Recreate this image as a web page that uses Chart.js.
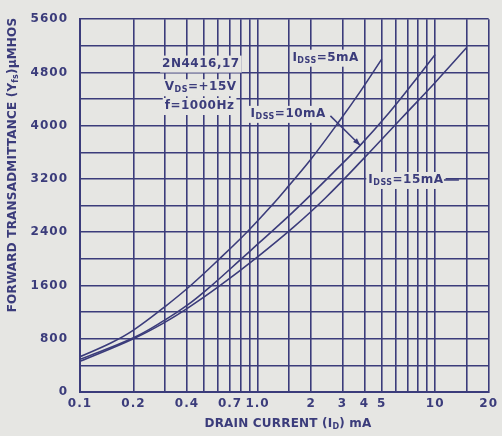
<!DOCTYPE html>
<html>
<head>
<meta charset="utf-8">
<script src="https://cdn.jsdelivr.net/npm/chart.js@4.4.1/dist/chart.umd.min.js"></script>
<style>
  html, body { margin: 0; padding: 0; background: #e6e6e3; }
</style>
</head>
<body>
<canvas id="chart" width="502" height="436"></canvas>
<script>
// drain current (mA) and forward transadmittance (umhos)
const idss5Current  = [0.1, 0.15, 0.2, 0.3, 0.42, 0.61, 0.87, 1.2, 1.5, 2.0, 2.86, 3.8, 5.0];
const idss5Yfs      = [530, 740, 930, 1280, 1600, 2000, 2400, 2800, 3100, 3500, 4055, 4520, 5000];
const idss10Current = [0.1, 0.2, 0.3, 0.4, 0.54, 0.81, 1.0, 1.5, 2.0, 2.7, 3.78, 5.5, 7.5, 10];
const idss10Yfs     = [490, 815, 1080, 1300, 1580, 2000, 2220, 2646, 2965, 3310, 3705, 4195, 4640, 5070];
const idss15Current = [0.1, 0.2, 0.3, 0.4, 0.6, 1.0, 1.6, 2.4, 4.0, 6.5, 10, 15];
const idss15Yfs     = [460, 800, 1046, 1252, 1578, 2030, 2480, 2910, 3520, 4120, 4650, 5170];

const xTickLabels = [0.1, 0.2, 0.4, 0.7, 1, 2, 3, 4, 5, 10, 20];
const yTickLabels = [0, 800, 1600, 2400, 3200, 4000, 4800, 5600];

const ink = '#3b3c7b';
const paper = '#e6e6e3';

// text notes placed in data coordinates; second item of a part = subscript
const notes = [
    { x: 0.29, y: 4933, parts: [['2N4416,17']] },
    { x: 0.30, y: 4578, parts: [['V'], ['DS', true], ['=+15V']] },
    { x: 0.30, y: 4296, parts: [['f=1000Hz']] },
    { x: 1.57, y: 5022, parts: [['I'], ['DSS', true], ['=5mA']] },
    { x: 0.913, y: 4178, parts: [['I'], ['DSS', true], ['=10mA']] },
    { x: 4.2, y: 3185, parts: [['I'], ['DSS', true], ['=15mA']] }
];

const mainFont = 'bold 12px "DejaVu Sans"';
const subFont = 'bold 8px "DejaVu Sans"';

function partsWidth(ctx, parts) {
    let w = 0;
    parts.forEach(p => {
        ctx.font = p[1] ? subFont : mainFont;
        w += ctx.measureText(p[0]).width;
    });
    return w;
}

function drawParts(ctx, parts, x, y) {
    let cx = x;
    parts.forEach(p => {
        ctx.font = p[1] ? subFont : mainFont;
        ctx.fillText(p[0], cx, p[1] ? y + 3 : y);
        cx += ctx.measureText(p[0]).width;
    });
}

const paperPlugin = {
    id: 'paper',
    beforeDraw(chart) {
        const ctx = chart.ctx;
        ctx.save();
        ctx.fillStyle = paper;
        ctx.fillRect(0, 0, chart.width, chart.height);
        ctx.restore();
        ctx.letterSpacing = '1px';
    },
    afterDraw(chart) {
        const ctx = chart.ctx;
        const xs = chart.scales.x;
        const ys = chart.scales.y;
        ctx.save();
        ctx.textBaseline = 'middle';
        ctx.textAlign = 'left';
        ctx.letterSpacing = '0.5px';

        notes.forEach(n => {
            const px = xs.getPixelForValue(n.x);
            const py = ys.getPixelForValue(n.y);
            const w = partsWidth(ctx, n.parts);
            ctx.fillStyle = paper;
            ctx.fillRect(px - 2, py - 8, w + 4, 17);
            ctx.fillStyle = ink;
            drawParts(ctx, n.parts, px, py);
        });

        // arrow to the 10mA curve
        ctx.strokeStyle = ink;
        ctx.fillStyle = ink;
        ctx.lineWidth = 1.5;
        const ax0 = xs.getPixelForValue(2.57), ay0 = ys.getPixelForValue(4148);
        const ax1 = xs.getPixelForValue(3.79), ay1 = ys.getPixelForValue(3704);
        ctx.beginPath();
        ctx.moveTo(ax0, ay0);
        ctx.lineTo(ax1, ay1);
        ctx.stroke();
        const ang = Math.atan2(ay1 - ay0, ax1 - ax0);
        ctx.beginPath();
        ctx.moveTo(ax1, ay1);
        ctx.lineTo(ax1 - 8 * Math.cos(ang - 0.35), ay1 - 8 * Math.sin(ang - 0.35));
        ctx.lineTo(ax1 - 8 * Math.cos(ang + 0.35), ay1 - 8 * Math.sin(ang + 0.35));
        ctx.closePath();
        ctx.fill();

        // leader after the 15mA note
        const ly = ys.getPixelForValue(3185);
        ctx.beginPath();
        ctx.moveTo(xs.getPixelForValue(11.2), ly);
        ctx.lineTo(xs.getPixelForValue(13.6), ly);
        ctx.stroke();

        // axis titles
        ctx.letterSpacing = '0.2px';
        const xTitle = [['DRAIN CURRENT (I'], ['D', true], [') mA']];
        const xw = partsWidth(ctx, xTitle);
        drawParts(ctx, xTitle, 288 - xw / 2, 424);

        const yTitle = [['FORWARD TRANSADMITTANCE (Y'], ['fs', true], [')'], ['\u03bcMHOS']];
        ctx.translate(13, 165);
        ctx.rotate(-Math.PI / 2);
        const yw = partsWidth(ctx, yTitle);
        drawParts(ctx, yTitle, -yw / 2, 0);
        ctx.restore();
    }
};

function toPoints(xs, ys) {
    return xs.map((x, i) => ({ x: x, y: ys[i] }));
}

function curve(label, xs, ys) {
    return {
        label: label,
        data: toPoints(xs, ys),
        borderColor: ink,
        borderWidth: 1.6,
        pointRadius: 0,
        fill: false,
        tension: 0.4
    };
}

Chart.defaults.font.family = '"DejaVu Sans"';
Chart.defaults.font.size = 12;
Chart.defaults.font.weight = 'bold';
Chart.defaults.color = ink;

new Chart(document.getElementById('chart').getContext('2d'), {
    type: 'line',
    data: {
        datasets: [
            curve('IDSS=5mA', idss5Current, idss5Yfs),
            curve('IDSS=10mA', idss10Current, idss10Yfs),
            curve('IDSS=15mA', idss15Current, idss15Yfs)
        ]
    },
    options: {
        responsive: false,
        animation: false,
        layout: { padding: { top: 14, right: 12, bottom: 0, left: 0 } },
        plugins: {
            legend: { display: false },
            tooltip: { enabled: false }
        },
        scales: {
            x: {
                type: 'logarithmic',
                min: 0.1,
                max: 20,
                grid: { color: ink, lineWidth: 1.6, drawTicks: false },
                border: { color: ink, width: 2 },
                ticks: {
                    autoSkip: false,
                    maxRotation: 0,
                    padding: 5,
                    callback: (value) => {
                        const hit = xTickLabels.find(v => Math.abs(v - value) < 1e-6);
                        if (hit === undefined) return '';
                        return hit === 1 ? '1.0' : String(hit);
                    }
                },
                afterFit: (scale) => { scale.height = 44; }
            },
            y: {
                min: 0,
                max: 5600,
                grid: { color: ink, lineWidth: 1.6, drawTicks: false },
                border: { color: ink, width: 2 },
                ticks: {
                    stepSize: 400,
                    padding: 12,
                    callback: (value) => yTickLabels.includes(value) ? String(value) : ''
                },
                afterFit: (scale) => { scale.width = 80; }
            }
        }
    },
    plugins: [paperPlugin]
});
</script>
</body>
</html>
